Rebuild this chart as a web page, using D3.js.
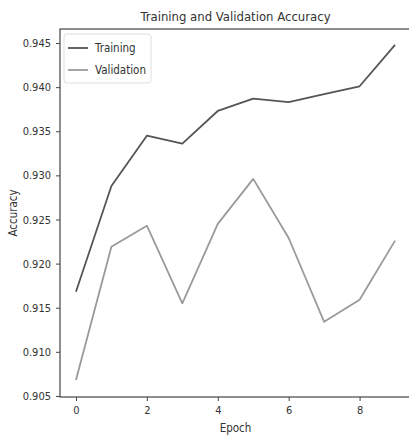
<!DOCTYPE html>
<html>
<head>
<meta charset="utf-8">
<script src="https://cdn.jsdelivr.net/npm/d3@7"></script>
<style>
  body { margin: 0; background: #fff; }
  svg text { font-family: "DejaVu Sans Condensed", "DejaVu Sans", sans-serif; font-stretch: condensed; }
</style>
</head>
<body>
<div id="chart"></div>
<script>
var epochs = [0, 1, 2, 3, 4, 5, 6, 7, 8, 9];
var trainAcc = [0.9168, 0.9288, 0.9345, 0.9336, 0.9373, 0.9387, 0.9383, 0.9392, 0.9401, 0.9448];
var valAcc = [0.9068, 0.9219, 0.9243, 0.9155, 0.9245, 0.9296, 0.9229, 0.9134, 0.9159, 0.9226];
var xTicks = [0, 2, 4, 6, 8];
var yTicks = [0.905, 0.910, 0.915, 0.920, 0.925, 0.930, 0.935, 0.940, 0.945];
var seriesNames = ["Training", "Validation"];

var width = 409, height = 441;
var margin = { top: 29, right: -2, bottom: 44, left: 60 };

var svg = d3.select("#chart").append("svg")
  .attr("width", width)
  .attr("height", height);

var x = d3.scaleLinear()
  .domain([-0.45, 9.45])
  .range([margin.left, width - margin.right]);

var y = d3.scaleLinear()
  .domain([0.90488, 0.94659])
  .range([height - margin.bottom, margin.top]);

var line = d3.line()
  .x(function(d, i) { return x(epochs[i]); })
  .y(function(d) { return y(d); });

var colors = ["#555", "#9a9a9a"];

// lines
[trainAcc, valAcc].forEach(function(s, k) {
  svg.append("path")
    .datum(s)
    .attr("fill", "none")
    .attr("stroke", colors[k])
    .attr("stroke-width", 1.8)
    .attr("stroke-linejoin", "round")
    .attr("d", line);
});

// frame
svg.append("rect")
  .attr("x", margin.left)
  .attr("y", margin.top)
  .attr("width", width - margin.right - margin.left)
  .attr("height", height - margin.bottom - margin.top)
  .attr("fill", "none")
  .attr("stroke", "#444")
  .attr("stroke-width", 1.2);

// axes
var xAxis = svg.append("g")
  .attr("transform", "translate(0," + (height - margin.bottom) + ")")
  .call(d3.axisBottom(x).tickValues(xTicks).tickSize(4).tickPadding(5).tickFormat(d3.format("d")));
var yAxis = svg.append("g")
  .attr("transform", "translate(" + margin.left + ",0)")
  .call(d3.axisLeft(y).tickValues(yTicks).tickSize(4).tickPadding(5).tickFormat(d3.format(".3f")));

[xAxis, yAxis].forEach(function(a) {
  a.select(".domain").remove();
  a.selectAll("line").attr("stroke", "#444");
  a.selectAll("text").attr("fill", "#333").style("font-size", "11px");
});

// titles
svg.append("text")
  .attr("x", (margin.left + width - margin.right) / 2)
  .attr("y", 21)
  .attr("text-anchor", "middle")
  .attr("fill", "#333")
  .style("font-size", "13px")
  .text("Training and Validation Accuracy");

svg.append("text")
  .attr("x", (margin.left + width - margin.right) / 2)
  .attr("y", 432)
  .attr("text-anchor", "middle")
  .attr("fill", "#333")
  .style("font-size", "11.5px")
  .text("Epoch");

svg.append("text")
  .attr("transform", "translate(17," + ((margin.top + height - margin.bottom) / 2) + ") rotate(-90)")
  .attr("text-anchor", "middle")
  .attr("fill", "#333")
  .style("font-size", "11.5px")
  .text("Accuracy");

// legend
var lg = svg.append("g");
lg.append("rect")
  .attr("x", 64).attr("y", 34)
  .attr("width", 87).attr("height", 49)
  .attr("rx", 3)
  .attr("fill", "#fff")
  .attr("stroke", "#ddd");
seriesNames.forEach(function(name, k) {
  var ly = 48 + k * 22;
  lg.append("line")
    .attr("x1", 68).attr("x2", 88)
    .attr("y1", ly).attr("y2", ly)
    .attr("stroke", colors[k])
    .attr("stroke-width", 1.8);
  lg.append("text")
    .attr("x", 95).attr("y", ly + 4)
    .attr("fill", "#333")
    .style("font-size", "11.5px")
    .text(name);
});
</script>
</body>
</html>
